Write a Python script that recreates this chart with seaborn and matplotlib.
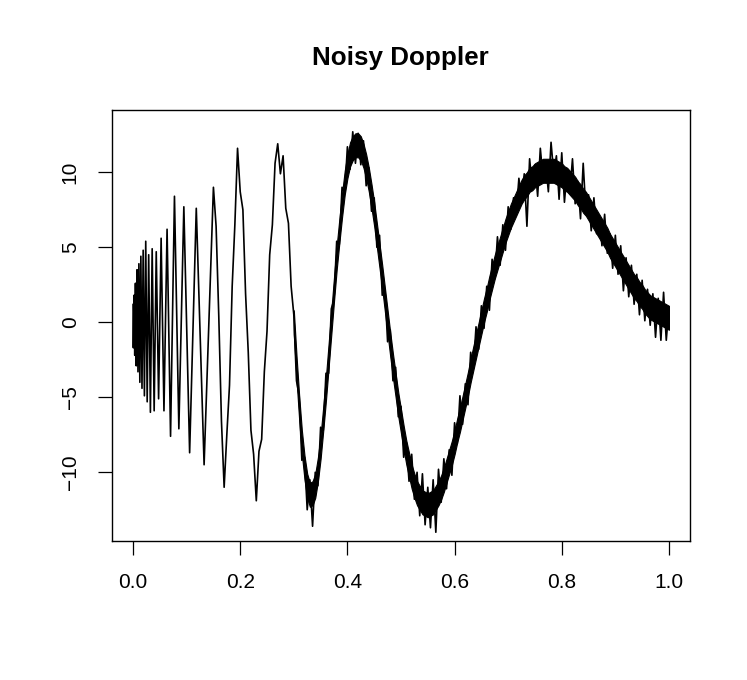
import numpy as np
import pandas as pd
import matplotlib
matplotlib.use('Agg')
import matplotlib.pyplot as plt
import seaborn as sns

# --- data ---
# fast oscillations near x = 0: turning points (x, y)
fast_x = [0.0000, 0.0006, 0.0019, 0.0032, 0.0045, 0.0060, 0.0075, 0.0092,
          0.0109, 0.0127, 0.0146, 0.0167, 0.0189, 0.0212, 0.0237, 0.0264,
          0.0292, 0.0324, 0.0357, 0.0394, 0.0433, 0.0477, 0.0524, 0.0577,
          0.0635, 0.0700, 0.0773, 0.0855, 0.0948, 0.1056, 0.1180, 0.1326,
          0.1500]
fast_y = [1.2, -1.7, 1.8, -2.2, 2.6, -2.9, 3.5, -3.3,
          3.9, -4.0, 4.4, -4.4, 4.8, -4.9, 5.4, -5.3,
          4.5, -6.0, 4.9, -5.9, 4.7, -5.1, 5.6, -5.9,
          6.2, -7.6, 8.4, -7.1, 7.7, -8.7, 7.6, -9.5,
          9.0]

# noisy samples every 0.005 from x = 0.155 to 1.000
dense_start = 0.155
dense_step = 0.005
dense_y = [
    6.4, 0.4, -6.6, -11.0, -7.5, -4.2, 2.4, 6.5, 11.6, 8.7,           # .155-.200
    7.5, 1.9, -2.0, -7.2, -8.8, -11.9, -8.6, -7.8, -3.3, -0.6,        # .205-.250
    4.5, 6.5, 10.6, 11.9, 9.9, 11.1, 7.6, 6.6, 2.4, 0.5,              # .255-.300
    -3.9, -4.9, -9.2, -9.0, -12.5, -10.5, -13.6, -10.0, -10.9, -7.0,  # .305-.350
    -7.2, -3.4, -3.4, 0.9, 1.5, 5.4, 5.2, 9.0, 8.6, 11.7,             # .355-.400
    10.2, 12.7, 10.6, 12.6, 10.5, 12.1, 9.1, 10.3, 7.4, 8.3,          # .405-.450
    5.0, 5.8, 1.8, 2.2, -1.3, -0.5, -3.9, -3.0, -6.3, -5.6,           # .455-.500
    -9.0, -8.0, -10.6, -8.8, -11.8, -10.0, -12.9, -10.1, -13.5, -11.0,  # .505-.550
    -13.7, -10.5, -14.0, -9.8, -12.0, -9.1, -11.1, -8.5, -10.2, -6.7,   # .555-.600
    -8.1, -4.9, -6.8, -4.1, -5.5, -2.0, -3.1, -0.3, -1.8, 1.1,        # .605-.650
    -0.4, 2.4, 0.8, 4.2, 2.9, 5.7, 3.8, 6.5, 4.8, 7.7,                # .655-.700
    6.2, 8.3, 7.2, 9.6, 8.1, 9.9, 6.4, 10.9, 9.0, 10.5,               # .705-.750
    8.4, 11.6, 9.6, 10.6, 8.7, 12.0, 9.9, 11.1, 8.2, 11.3,            # .755-.800
    8.0, 10.2, 8.6, 10.9, 7.9, 9.4, 6.9, 10.6, 7.4, 8.5,              # .805-.850
    6.1, 8.3, 5.9, 7.0, 5.1, 7.2, 4.6, 5.9, 3.6, 5.8,                 # .855-.900
    3.2, 5.1, 2.1, 4.3, 1.7, 3.8, 1.2, 3.2, 0.5, 2.8,                 # .905-.950
    0.1, 2.2, -0.2, 1.9, -1.0, 1.6, -1.2, 2.0, -1.2, 1.0,             # .955-1.000
]

# middle of the dark noise band, every 0.005 from x = 0.300 to 1.000
band_start = 0.300
band_mid = [
    0.0, -3.0, -5.7, -8.0, -9.7, -10.9, -11.5, -11.4, -10.9, -9.8,    # .300-.345
    -8.3, -6.4, -4.4, -2.2, 0.0, 2.2, 4.3, 6.1, 7.8, 9.3,             # .350-.395
    10.4, 11.2, 11.6, 11.8, 11.8, 11.6, 11.1, 10.4, 9.5, 8.4,         # .400-.445
    7.2, 5.8, 4.4, 3.0, 1.5, 0.0, -1.5, -2.9, -4.2, -5.5,             # .450-.495
    -6.6, -7.7, -8.7, -9.5, -10.3, -10.9, -11.4, -11.7, -12.0, -12.1,  # .500-.545
    -12.2, -12.1, -12.0, -11.7, -11.4, -11.0, -10.5, -9.9, -9.3, -8.7,  # .550-.595
    -8.0, -7.2, -6.5, -5.7, -4.9, -4.1, -3.2, -2.4, -1.6, -0.8,       # .600-.645
    0.0, 0.8, 1.5, 2.3, 3.0, 3.7, 4.3, 4.9, 5.5, 6.1,                 # .650-.695
    6.6, 7.1, 7.5, 7.9, 8.3, 8.7, 9.0, 9.2, 9.5, 9.6,                 # .700-.745
    9.8, 9.9, 10.0, 10.1, 10.1, 10.1, 10.1, 10.1, 10.0, 9.9,          # .750-.795
    9.8, 9.6, 9.5, 9.3, 9.1, 8.9, 8.6, 8.4, 8.1, 7.9,                 # .800-.845
    7.6, 7.3, 7.0, 6.7, 6.4, 6.1, 5.8, 5.5, 5.1, 4.8,                 # .850-.895
    4.5, 4.2, 3.9, 3.6, 3.3, 3.0, 2.7, 2.4, 2.2, 1.9,                 # .900-.945
    1.7, 1.4, 1.2, 1.0, 0.9, 0.8, 0.7, 0.6, 0.5, 0.4,                 # .950-.995
    0.3,                                                              # 1.000
]
band_half = 0.8

x_ticks = [0.0, 0.2, 0.4, 0.6, 0.8, 1.0]
x_tick_labels = ["0.0", "0.2", "0.4", "0.6", "0.8", "1.0"]
y_ticks = [-10, -5, 0, 5, 10]

dense_x = np.round(dense_start + dense_step * np.arange(len(dense_y)), 4)
band_x = np.round(band_start + dense_step * np.arange(len(band_mid)), 4)
df = pd.DataFrame({
    "x": list(fast_x) + list(dense_x),
    "y": list(fast_y) + list(dense_y),
})

# --- plot ---
sns.set_theme(style="white")
plt.rcParams['font.family'] = ['Liberation Sans', 'DejaVu Sans']

fig = plt.figure(figsize=(7.47, 6.8), dpi=100)
ax = fig.add_axes([0.1494, 0.2049, 0.7748, 0.6333])

mid = np.array(band_mid)
ax.fill_between(band_x, mid - band_half, mid + band_half, color="black",
                linewidth=0.8, edgecolor="black")
sns.lineplot(data=df, x="x", y="y", ax=ax, color="black", linewidth=1.2,
             estimator=None, sort=False)

ax.set_xlim(-0.04, 1.04)
ax.set_ylim(-14.56, 14.15)
ax.set_xticks(x_ticks)
ax.set_xticklabels(x_tick_labels)
ax.set_yticks(y_ticks)
ax.set_yticklabels([str(v).replace("-", "\u2212") for v in y_ticks])
ax.set_xlabel("")
ax.set_ylabel("")

for s in ax.spines.values():
    s.set_color("black")
    s.set_linewidth(1.0)

ax.tick_params(axis="both", which="major", direction="out", length=10,
               width=0.9, color="black", labelsize=15, labelcolor="black",
               bottom=True, left=True)
ax.tick_params(axis="x", pad=13)
ax.tick_params(axis="y", pad=13)
for lab in ax.get_yticklabels():
    lab.set_rotation(90)
    lab.set_va("center")

fig.text(0.5362, 1 - 65.5 / 680, "Noisy Doppler", ha="center", va="baseline",
         fontsize=18.7, fontweight="bold", color="black")

fig.savefig("out.png", dpi=100, facecolor="white")
